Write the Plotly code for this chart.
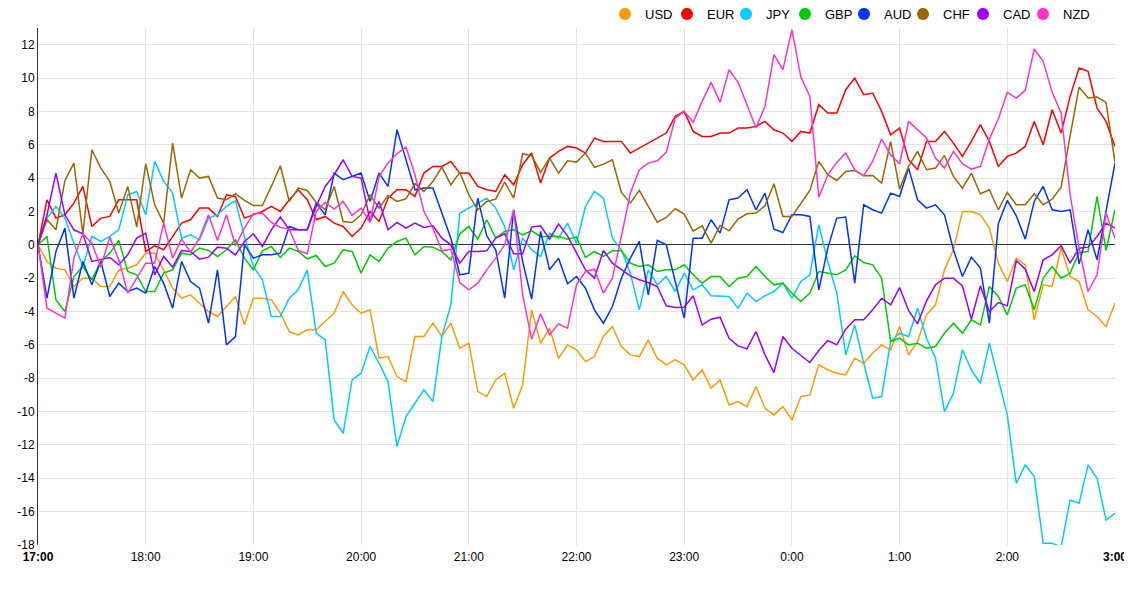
import pandas as pd
import plotly.graph_objects as go

times = pd.date_range("2024-01-01 17:00", periods=121, freq="5min")

tick_times = pd.date_range("2024-01-01 17:00", periods=11, freq="1h")
tick_labels = ["<b>17:00</b>", "18:00", "19:00", "20:00", "21:00", "22:00",
               "23:00", "0:00", "1:00", "2:00", "<b>3:00</b>"]
y_ticks = list(range(-18, 13, 2))
y_labels = [str(v) for v in y_ticks]

usd = [0, -1.0, -1.4, -1.5, -2.5, -2.0, -2.0, -2.5, -2.5, -1.5, -1.4, -1.2, -0.5, -0.5, -1.5, -2.6, -3.2, -3.0, -3.5, -4.0,
       -4.3, -3.7, -3.1, -4.8, -3.2, -3.2, -3.3, -4.1, -5.2, -5.4, -5.1, -5.1, -4.6, -4.1, -2.8, -3.6, -4.1, -3.9, -6.8, -6.7,
       -7.9, -8.2, -5.5, -5.5, -4.7, -5.5, -4.7, -6.2, -5.9, -8.8, -9.1, -8.1, -7.7, -9.8, -8.4, -3.9, -5.9, -5.0, -6.8, -6.0,
       -6.3, -7.0, -6.7, -5.5, -4.9, -6.1, -6.6, -6.7, -5.7, -6.8, -7.2, -6.9, -7.2, -8.1, -7.5, -8.6, -8.1, -9.6, -9.4, -9.7,
       -8.5, -9.8, -10.2, -9.7, -10.5, -9.1, -9.0, -7.2, -7.5, -7.7, -7.8, -6.8, -7.1, -6.5, -6.0, -6.3, -4.9, -6.6, -5.8, -4.2,
       -3.6, -1.5, -0.3, 2.0, 2.0, 1.8, 1.0, -1.1, -2.2, -0.8, -1.2, -4.5, -2.4, -2.5, -0.2, -1.9, -2.2, -3.9, -4.3, -4.9,
       -3.5]
eur = [0, 2.7, 1.6, 1.8, 2.5, 3.5, 1.1, 1.6, 1.7, 2.7, 2.7, 2.7, -0.4, -0.06, -0.3, 0.5, 1.3, 1.5, 2.2, 2.2,
       1.7, 3.0, 2.9, 1.6, 1.8, 2.0, 2.3, 2.0, 2.7, 3.3, 2.7, 1.5, 1.7, 1.3, 1.1, 0.5, 1.0, 2.0, 1.4, 2.8,
       3.3, 3.3, 2.9, 4.3, 4.7, 4.7, 5.0, 4.3, 4.3, 3.5, 3.3, 3.2, 4.2, 3.6, 4.8, 5.5, 3.7, 5.2, 5.6, 5.9,
       5.8, 5.5, 6.4, 6.2, 6.2, 6.2, 5.5, 5.8, 6.1, 6.4, 6.7, 7.7, 8.0, 6.8, 6.5, 6.5, 6.7, 6.7, 7.0, 7.0,
       7.1, 7.4, 6.9, 6.7, 6.2, 6.8, 6.7, 8.4, 7.9, 7.9, 9.3, 10.0, 9.0, 9.1, 8.0, 6.6, 7.0, 5.1, 4.5, 6.2,
       6.2, 6.8, 6.1, 5.3, 6.2, 7.2, 6.2, 4.7, 5.3, 5.5, 5.9, 7.4, 6.0, 8.1, 6.7, 8.9, 10.6, 10.4, 8.2, 7.4,
       5.9]
jpy = [0, 1.6, 2.3, 1.6, 0.1, -1.3, 0.5, 0.2, 0.5, 0.9, 3.0, 3.2, 1.8, 5.0, 3.8, 3.1, 0.4, 0.6, 0.3, 1.6,
       1.8, 2.3, 2.65, 0.5, -1.3, -2.1, -4.3, -4.3, -3.2, -2.7, -1.5, -5.3, -5.7, -10.5, -11.3, -8.1, -7.7, -6.1, -7.1, -8.2,
       -12.1, -10.3, -9.5, -8.7, -9.4, -5.5, -3.6, 1.9, 2.2, 2.5, 2.8, 2.2, 1.1, -1.5, 0.4, -0.3, -0.7, 0.7, 0.4, 1.3,
       0.1, 2.3, 3.2, 2.8, 0.4, -0.3, -1.7, -3.9, -1.5, -2.4, -1.9, -2.8, -1.7, -2.7, -2.4, -3.06, -3.1, -3.1, -3.8, -2.9,
       -3.4, -3.06, -2.8, -2.3, -3.2, -2.2, -1.8, 1.2, -1.0, -2.9, -6.6, -4.8, -7.1, -9.2, -9.1, -5.8, -5.3, -5.5, -3.8, -5.6,
       -6.8, -10.0, -8.9, -6.3, -7.5, -8.3, -5.9, -8.0, -10.2, -14.3, -13.2, -13.9, -17.9, -17.9, -18.1, -15.3, -15.5, -13.2, -14.0, -16.5,
       -16.1]
gbp = [0, 0.5, -3.3, -4.0, -1.9, -1.3, -2.1, -1.0, -0.5, 0.26, -1.6, -1.8, -2.8, -2.8, -1.7, -1.5, -0.5, -0.6, -0.2, -0.34,
       -0.7, -0.3, 0.3, -0.8, -1.5, -0.36, -0.1, -0.76, -0.2, -0.4, -0.84, -0.64, -1.3, -1.1, -0.3, -0.4, -1.7, -0.6, -1.0, -0.2,
       0.2, 0.4, -0.6, -0.1, -0.14, -0.4, -0.9, 0.66, 1.1, 0.34, 1.5, 0.4, 0.8, 0.9, 0.6, 0.84, 0.5, 0.5, 0.5, 0.34,
       0.46, -0.76, -0.4, -0.7, -0.36, -0.34, -1.1, -1.3, -1.2, -1.6, -1.5, -1.5, -1.2, -1.8, -2.3, -1.9, -1.9, -2.5, -2.0, -1.9,
       -1.3, -1.9, -2.4, -2.3, -2.9, -3.4, -2.9, -1.6, -1.7, -1.8, -1.5, -0.66, -1.06, -1.2, -2.0, -5.8, -5.6, -6.0, -5.9, -6.2,
       -6.1, -5.3, -4.7, -5.3, -4.5, -4.8, -2.5, -3.1, -4.2, -2.6, -2.4, -3.9, -2.0, -1.3, -2.0, -1.7, -0.46, -0.4, 2.9, -0.34,
       2.1]
aud = [0, -3.2, -0.4, 1.0, -3.2, -1.0, -2.4, -1.0, -3.1, -2.3, -2.8, -2.6, -2.9, -1.3, -2.3, -3.8, -1.0, -2.2, -2.6, -4.7,
       -1.5, -6.0, -5.5, 0.0, -0.8, -0.6, -0.6, -0.5, 1.1, 0.9, 0.9, 2.5, 1.8, 4.3, 3.9, 4.1, 4.3, 2.6, 4.3, 3.5,
       6.9, 5.1, 3.3, 3.4, 3.4, 1.9, 0.4, -1.8, -1.7, 2.8, 0.54, -0.3, -3.2, 2.1, -1.0, -3.26, 0.8, -1.5, -0.8, -2.34,
       -1.9, -2.6, -3.9, -4.7, -3.7, -2.0, -0.8, 0.2, -3.0, 0.26, 0.0, -2.2, -4.4, 0.4, 0.4, 1.5, 0.7, 2.7, 2.8, 3.3,
       2.1, 3.1, 0.94, 0.74, 1.8, 1.8, 1.7, -2.7, -0.2, 1.6, 1.66, -2.3, 2.4, 2.1, 1.9, 3.1, 2.9, 4.6, 2.7, 2.2,
       2.4, 1.8, -0.3, -1.9, -0.74, -1.4, -4.7, 1.26, 2.66, 1.74, 0.34, 2.6, 3.5, 2.1, 2.0, 2.1, -1.14, 0.9, -0.9, 2.0,
       4.9]
chf = [0, 1.5, 0.9, 3.86, 4.9, 0.66, 5.7, 4.6, 3.8, 1.9, 3.5, 1.06, 4.86, 2.4, 1.3, 6.1, 2.8, 4.5, 4.0, 4.1,
       2.8, 2.7, 3.06, 2.66, 2.36, 2.36, 3.5, 4.74, 2.6, 3.4, 3.26, 2.54, 2.1, 3.5, 1.4, 1.34, 1.8, 3.0, 2.2, 2.96,
       2.6, 2.76, 3.66, 3.2, 3.8, 4.66, 3.6, 4.34, 3.0, 2.1, 2.6, 2.74, 3.76, 2.8, 5.46, 5.34, 4.34, 5.2, 4.3, 5.04,
       4.96, 5.5, 4.64, 4.84, 5.1, 3.14, 2.5, 3.26, 2.3, 1.36, 1.64, 2.16, 1.84, 0.82, 1.14, 0.1, 1.16, 0.84, 1.54, 1.86,
       1.9, 2.34, 3.66, 1.7, 1.7, 2.5, 3.26, 5.0, 4.2, 3.86, 4.4, 4.46, 4.14, 4.16, 3.7, 6.2, 3.34, 4.7, 5.6, 4.5,
       4.6, 5.36, 4.1, 3.4, 4.3, 3.06, 3.3, 2.1, 3.14, 2.4, 2.4, 3.06, 2.4, 2.74, 3.46, 6.54, 9.46, 8.8, 8.86, 8.54,
       4.94]
cad = [0, 1.8, 4.3, 1.8, 0.9, 0.66, -1.0, -0.9, -0.76, -1.2, -0.6, 0.4, 0.7, -1.8, -0.7, -1.34, -0.34, -0.4, -0.86, -0.74,
       -0.14, -0.2, -0.6, 0.2, 0.66, -0.1, 0.9, 1.66, 0.9, 0.9, 0.9, 2.3, 3.5, 4.2, 5.1, 4.1, 4.0, 1.4, 2.6, 0.9,
       1.34, 1.0, 1.3, 1.04, 1.14, 0.4, 0.0, -1.1, -0.4, -0.4, -0.36, 0.4, 0.66, -0.54, -0.54, 1.06, 1.14, 0.34, 1.24, 0.54,
       -0.5, -1.5, -2.0, -0.34, -1.1, -1.5, -1.86, -2.1, -2.26, -2.5, -3.66, -3.76, -3.74, -3.06, -4.8, -4.46, -4.34, -5.6, -6.06, -6.24,
       -5.2, -6.6, -7.66, -5.5, -6.2, -6.64, -7.06, -6.34, -5.74, -6.0, -5.06, -4.5, -4.5, -3.9, -3.2, -3.6, -2.56, -3.94, -4.74, -3.36,
       -2.4, -2.0, -2.0, -2.46, -4.46, -2.46, -4.0, -3.46, -3.66, -0.94, -1.46, -2.8, -0.9, -0.6, -0.06, -1.1, -0.2, -0.14, 0.5, 1.3,
       1.0]
nzd = [0, -3.8, -4.1, -4.4, -0.8, 0.66, 0.1, -1.34, 0.46, -0.9, -2.9, -2.0, -1.1, -1.1, 1.3, -0.8, 0.34, -0.46, 0.4, 1.8,
       0.26, 1.8, -0.06, 1.0, 1.86, 1.9, 1.34, 1.04, 0.94, -0.34, -0.54, 2.0, 2.54, 2.14, 2.6, 1.76, 2.2, 1.34, 4.1, 4.9,
       5.46, 5.86, 4.2, 2.0, 1.0, -0.36, -0.26, -2.26, -2.7, -2.3, -1.5, -0.8, 0.0, 2.1, -3.0, -5.66, -4.14, -5.4, -4.74, -5.0,
       -2.4, -1.6, -1.46, -2.9, -2.0, 0.5, 3.1, 4.5, 4.9, 5.04, 5.54, 7.6, 8.0, 7.34, 8.6, 9.74, 8.54, 10.5, 9.74, 8.4,
       7.0, 8.3, 11.4, 10.5, 12.9, 10.06, 8.9, 2.86, 4.2, 4.94, 5.5, 4.5, 4.14, 5.0, 6.34, 5.4, 4.86, 7.4, 6.9, 6.4,
       5.2, 4.6, 5.6, 4.86, 4.54, 4.7, 6.34, 7.54, 9.14, 8.8, 9.26, 11.74, 11.0, 9.14, 7.9, 3.0, -0.2, -2.8, -1.8, 1.9,
       0.4]

series_names = ["USD", "EUR", "JPY", "GBP", "AUD", "CHF", "CAD", "NZD"]
series_values = [usd, eur, jpy, gbp, aud, chf, cad, nzd]
series_colors = ["#ff9900", "#ff0000", "#00ccff", "#00cc00", "#0033ff", "#996600", "#9900ff", "#ff33cc"]

# one legend box per currency so each entry can sit where the reference shows it
legend_left_px = [605, 667, 726, 785, 844, 903, 963, 1023]

fig = go.Figure()
for name, vals, col in zip(series_names, series_values, series_colors):
    fig.add_trace(go.Scatter(x=times, y=vals, mode="lines", name=name,
                             line=dict(color=col, width=1.5), showlegend=False))

legend_layouts = {}
for k, (name, col) in enumerate(zip(series_names, series_colors)):
    lname = "legend" if k == 0 else f"legend{k + 1}"
    fig.add_trace(go.Scatter(x=[None], y=[None], mode="markers", name=name,
                             marker=dict(color=col, size=12, symbol="circle"),
                             showlegend=True, legend=lname))
    legend_layouts[lname] = dict(
        orientation="h", xref="container", yref="container",
        x=(legend_left_px[k] - 8) / 1124, xanchor="left",
        y=1 - 6 / 588, yanchor="middle",
        font=dict(size=13, color="#000000"), itemwidth=30,
        bgcolor="rgba(0,0,0,0)", borderwidth=0,
    )

# page body adds an 8px offset, so the figure is sized to fit the window
fig.update_layout(
    width=1124, height=588,
    margin=dict(l=30, r=17, t=20, b=51, autoexpand=False),
    paper_bgcolor="white", plot_bgcolor="white",
    font=dict(family="Liberation Sans, Arial, sans-serif", size=12, color="#333333"),
    showlegend=True,
    **legend_layouts,
)
fig.update_xaxes(
    range=[times[0], times[-1]], automargin=False,
    tickvals=tick_times, ticktext=tick_labels,
    showgrid=True, gridcolor="#e3e3e3", gridwidth=1,
    showline=False, zeroline=False, ticks="", ticklabelstandoff=3,
    tickfont=dict(size=12, color="#000000"),
)
fig.update_yaxes(
    range=[-18, 13], automargin=False,
    tickvals=y_ticks, ticktext=y_labels,
    showgrid=True, gridcolor="#e3e3e3", gridwidth=1,
    zeroline=True, zerolinecolor="#333333", zerolinewidth=1,
    showline=True, linecolor="#333333", linewidth=1,
    ticks="", tickfont=dict(size=12, color="#000000"),
)

fig.write_html("out.html")
